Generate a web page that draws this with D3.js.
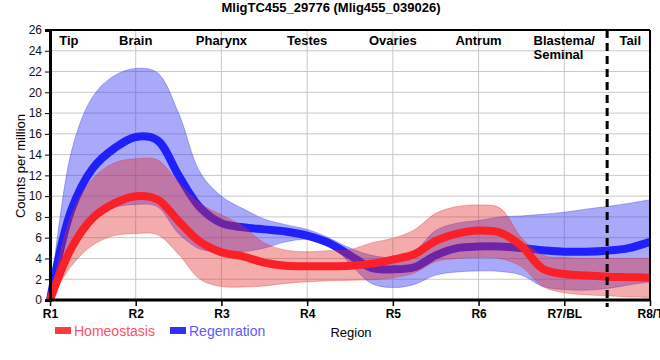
<!DOCTYPE html>
<html><head><meta charset="utf-8">
<script src="https://cdn.jsdelivr.net/npm/d3@7"></script>
<style>
html,body{margin:0;padding:0;background:#fff;}
svg{display:block;font-family:"Liberation Sans",Arial,sans-serif;}
</style></head>
<body>
<svg id="chart" width="660" height="360"></svg>
<script>
// ---- data ----
const title = "MligTC455_29776 (Mlig455_039026)";
const regionTicks = ["R1","R2","R3","R4","R5","R6","R7/BL","R8/T"];
const regionNames = ["Tip","Brain","Pharynx","Testes","Ovaries","Antrum","Blastema/","Tail"];
const regionNamePos = [0.22,1,2,3,4,5,6,6.77];
const yTicks = [0,2,4,6,8,10,12,14,16,18,20,22,24,26];
const xPos = [0,0.25,0.5,0.75,1,1.25,1.5,1.75,2,2.25,2.5,2.75,3,3.25,3.5,3.75,4,4.25,4.5,4.75,5,5.25,5.5,5.75,6,6.25,6.5,6.75,7];
const homeoMean  = [0,5.0,7.9,9.3,10.0,9.7,7.6,5.6,4.6,4.2,3.6,3.3,3.25,3.25,3.3,3.5,3.9,4.4,5.7,6.4,6.7,6.5,5.2,3.0,2.5,2.35,2.25,2.2,2.15];
const homeoUpper = [0,8.2,11.7,13.2,13.6,13.5,11.3,9.3,8.2,7.1,5.5,4.8,4.65,4.75,4.85,5.5,5.95,6.75,8.35,9.0,9.15,8.85,6.0,4.3,4.1,4.0,4.0,4.0,4.0];
const homeoLower = [0,3.3,5.3,6.2,6.4,6.3,4.4,2.0,1.3,1.25,1.35,1.6,1.75,1.85,1.9,1.95,2.15,2.6,3.7,4.0,4.1,4.0,3.2,1.3,0.7,0.5,0.4,0.3,0.25];
const regenMean  = [0,8.7,12.7,14.6,15.7,15.4,12.0,8.9,7.4,7.0,6.8,6.6,6.2,5.5,4.3,3.1,2.95,3.15,4.3,5.0,5.15,5.15,5.0,4.8,4.65,4.65,4.75,5.0,5.6];
const regenUpper = [0,14.3,19.6,21.6,22.3,21.9,18.0,12.3,10.0,8.8,7.8,7.25,6.8,6.0,5.0,4.3,4.1,4.7,6.7,7.4,7.65,8.0,8.1,8.25,8.45,8.75,9.0,9.3,9.65];
const regenLower = [0,4.8,7.9,8.9,9.2,9.0,6.4,4.9,4.65,4.65,5.0,5.6,5.85,5.5,3.5,1.6,1.2,1.5,2.4,2.7,2.8,2.75,2.4,1.3,1.0,0.95,1.1,1.45,1.75];
const dividerPos = 6.5;
const legendNames = ["Homeostasis","Regenration"];

// ---- layout ----
const svg = d3.select("#chart");
const L = 50, R = 650, T = 30, B = 300;
const x = d3.scaleLinear().domain([0,7]).range([L,R]);
const y = d3.scaleLinear().domain([0,26]).range([B,T]);

// title
svg.append("text").attr("x",331).attr("y",12).attr("text-anchor","middle")
  .attr("font-size",13).attr("font-weight","bold").text(title);

// grid
svg.append("g").selectAll("line").data(yTicks.filter(d=>d>0 && d<26)).join("line")
  .attr("x1",L).attr("x2",R).attr("y1",d=>y(d)).attr("y2",d=>y(d))
  .attr("stroke","#c8c8c8").attr("stroke-width",1);
svg.append("g").selectAll("line").data(d3.range(1,7)).join("line")
  .attr("x1",d=>x(d)).attr("x2",d=>x(d)).attr("y1",T).attr("y2",B)
  .attr("stroke","#c8c8c8").attr("stroke-width",1);

// series
const curve = d3.curveCatmullRom.alpha(0.5);
const pts = (arr)=>arr.map((v,i)=>[xPos[i],v]);
const area = d3.area().x((d)=>x(d.x)).y0(d=>y(d.lo)).y1(d=>y(d.hi)).curve(curve);
const line = d3.line().x(d=>x(d[0])).y(d=>y(d[1])).curve(curve);
const band = (lo,hi)=>xPos.map((xv,i)=>({x:xv,lo:lo[i],hi:hi[i]}));

const plot = svg.append("g");
plot.append("path").datum(band(regenLower,regenUpper)).attr("d",area)
  .attr("fill","rgba(50,50,240,0.42)").attr("stroke","rgba(50,50,240,0.35)").attr("stroke-width",1);
plot.append("path").datum(pts(regenMean)).attr("d",line)
  .attr("fill","none").attr("stroke","#2020fa").attr("stroke-width",8);
plot.append("path").datum(band(homeoLower,homeoUpper)).attr("d",area)
  .attr("fill","rgba(225,45,45,0.4)").attr("stroke","rgba(225,45,45,0.35)").attr("stroke-width",1);
plot.append("path").datum(pts(homeoMean)).attr("d",line)
  .attr("fill","none").attr("stroke","#fa2028").attr("stroke-width",8);

// divider
svg.append("line").attr("x1",x(dividerPos)).attr("x2",x(dividerPos)).attr("y1",T).attr("y2",B+7)
  .attr("stroke","#000").attr("stroke-width",3).attr("stroke-dasharray","8,5");

// frame
svg.append("line").attr("x1",L).attr("x2",R).attr("y1",T).attr("y2",T).attr("stroke","#000").attr("stroke-width",2);
svg.append("line").attr("x1",R).attr("x2",R).attr("y1",T).attr("y2",B).attr("stroke","#000").attr("stroke-width",2);

// axes
const yAxis = svg.append("g").attr("transform",`translate(${L},0)`)
  .call(d3.axisLeft(y).tickValues(yTicks).tickSize(5).tickPadding(3));
yAxis.selectAll("text").attr("font-size",12).attr("fill","#111").attr("font-family","Liberation Sans, Arial, sans-serif");
yAxis.selectAll(".tick line").attr("stroke","#000");
yAxis.select(".domain").attr("stroke","#000").attr("stroke-width",3);

const xAxis = svg.append("g").attr("transform",`translate(0,${B})`)
  .call(d3.axisBottom(x).tickValues(d3.range(0,8)).tickFormat(i=>regionTicks[i]).tickSize(6).tickPadding(3));
xAxis.selectAll("text").attr("font-size",12).attr("font-weight","bold").attr("fill","#000").attr("font-family","Liberation Sans, Arial, sans-serif");
xAxis.selectAll(".tick line").attr("stroke","#000").attr("stroke-width",1.5);
xAxis.select(".domain").attr("stroke","#000").attr("stroke-width",3);
xAxis.select(".domain").attr("d",`M${L-1.5},0H${R+1}`);

// region names
regionNames.forEach((n,i)=>{
  const t = svg.append("text").attr("y",45).attr("font-size",13).attr("font-weight","bold").attr("fill","#000");
  t.attr("x",x(regionNamePos[i])).attr("text-anchor","middle").text(n);
  if(n==="Blastema/"){
    const w = t.node().getComputedTextLength();
    svg.append("text").attr("x",x(regionNamePos[i])-w/2).attr("y",59).attr("font-size",13)
      .attr("font-weight","bold").attr("fill","#000").text("Seminal");
  }
});

// y label
svg.append("text").attr("transform","translate(25,166) rotate(-90)").attr("text-anchor","middle")
  .attr("font-size",13).attr("fill","#000").text("Counts per million");

// x label
svg.append("text").attr("x",351).attr("y",337).attr("text-anchor","middle")
  .attr("font-size",13).attr("fill","#000").text("Region");

// legend
const legCol = ["#ff3a3a","#3030ff"];
const legTxt = ["#ff5060","#5a5aff"];
const legX = [55,170];
legendNames.forEach((n,i)=>{
  svg.append("rect").attr("x",legX[i]).attr("y",327).attr("width",16).attr("height",7).attr("fill",legCol[i]);
  svg.append("text").attr("x",legX[i]+19).attr("y",336).attr("font-size",14).attr("fill",legTxt[i]).text(n);
});
</script>
</body></html>
